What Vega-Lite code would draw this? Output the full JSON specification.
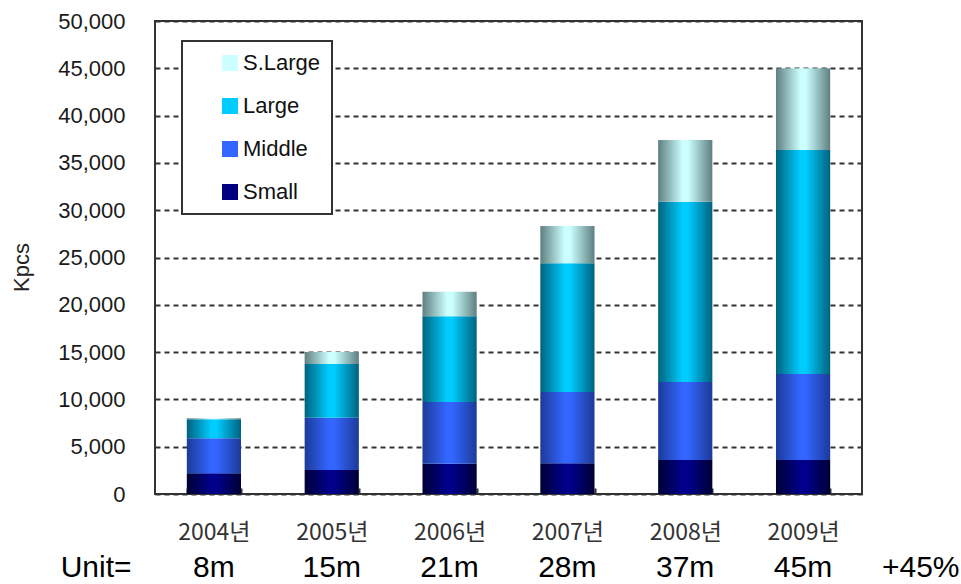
{
  "$schema": "https://vega.github.io/schema/vega-lite/v6.json",
  "width": 707,
  "height": 473,
  "autosize": {"type": "none"},
  "padding": {"left": 155, "top": 21, "right": 99, "bottom": 90},
  "background": "white",
  "config": {
    "view": {"stroke": "#333333", "strokeWidth": 2},
    "font": "Liberation Sans"
  },
  "datasets": {
    "sales": [
      {"year": "2004년", "size": "Small", "kpcs": 2200},
      {"year": "2004년", "size": "Middle", "kpcs": 3700},
      {"year": "2004년", "size": "Large", "kpcs": 2000},
      {"year": "2004년", "size": "S.Large", "kpcs": 100},
      {"year": "2005년", "size": "Small", "kpcs": 2540},
      {"year": "2005년", "size": "Middle", "kpcs": 5530},
      {"year": "2005년", "size": "Large", "kpcs": 5670},
      {"year": "2005년", "size": "S.Large", "kpcs": 1260},
      {"year": "2006년", "size": "Small", "kpcs": 3200},
      {"year": "2006년", "size": "Middle", "kpcs": 6520},
      {"year": "2006년", "size": "Large", "kpcs": 9080},
      {"year": "2006년", "size": "S.Large", "kpcs": 2590},
      {"year": "2007년", "size": "Small", "kpcs": 3240},
      {"year": "2007년", "size": "Middle", "kpcs": 7540},
      {"year": "2007년", "size": "Large", "kpcs": 13610},
      {"year": "2007년", "size": "S.Large", "kpcs": 3940},
      {"year": "2008년", "size": "Small", "kpcs": 3590},
      {"year": "2008년", "size": "Middle", "kpcs": 8250},
      {"year": "2008년", "size": "Large", "kpcs": 19060},
      {"year": "2008년", "size": "S.Large", "kpcs": 6520},
      {"year": "2009년", "size": "Small", "kpcs": 3590},
      {"year": "2009년", "size": "Middle", "kpcs": 9090},
      {"year": "2009년", "size": "Large", "kpcs": 23680},
      {"year": "2009년", "size": "S.Large", "kpcs": 8640}
    ],
    "units": [
      {"label": "Unit="},
      {"label": "8m"},
      {"label": "15m"},
      {"label": "21m"},
      {"label": "28m"},
      {"label": "37m"},
      {"label": "45m"},
      {"label": "+45%"}
    ]
  },
  "layer": [
    {
      "data": {"name": "sales"},
      "transform": [
        {"calculate": "indexof(['Small', 'Middle', 'Large', 'S.Large'], datum.size)", "as": "stackRank"}
      ],
      "mark": {"type": "bar"},
      "encoding": {
        "x": {
          "field": "year",
          "type": "nominal",
          "sort": null,
          "scale": {"paddingInner": 0.54, "paddingOuter": 0.27},
          "axis": {
            "title": null,
            "labelAngle": 0,
            "labelFont": "Noto Sans CJK KR",
            "labelFontSize": 23,
            "labelColor": "#333333",
            "labelPadding": 33,
            "domain": false,
            "ticks": true,
            "tickBand": "extent",
            "tickSize": -6,
            "tickColor": "#333333",
            "tickWidth": 2,
            "grid": false
          }
        },
        "y": {
          "field": "kpcs",
          "type": "quantitative",
          "stack": "zero",
          "scale": {"domain": [0, 50000], "nice": false},
          "axis": {
            "title": "Kpcs",
            "titleFontSize": 22,
            "titleFontWeight": "normal",
            "titleColor": "#222222",
            "titlePadding": 24,
            "titleY": 246,
            "values": [0, 5000, 10000, 15000, 20000, 25000, 30000, 35000, 40000, 45000, 50000],
            "format": ",.0f",
            "labelFontSize": 22,
            "labelColor": "#1a1a1a",
            "labelPadding": 30,
            "ticks": false,
            "tickSize": 0,
            "domain": false,
            "grid": true,
            "gridDash": [5, 4],
            "gridColor": "#333333",
            "gridWidth": 1.8
          }
        },
        "order": {"field": "stackRank", "type": "quantitative", "sort": "ascending"},
        "color": {
          "field": "size",
          "type": "nominal",
          "scale": {
            "domain": ["Small", "Middle", "Large", "S.Large"],
            "range": ["#000080", "#3366ff", "#00ccff", "#ccffff"]
          },
          "condition": [
            {"test": "datum.size === 'Small'", "value": {"gradient": "linear", "x1": 0, "y1": 0, "x2": 1, "y2": 0, "stops": [{"offset": 0, "color": "#000035"}, {"offset": 0.45, "color": "#00008c"}, {"offset": 0.55, "color": "#00008c"}, {"offset": 1, "color": "#000035"}]}},
            {"test": "datum.size === 'Middle'", "value": {"gradient": "linear", "x1": 0, "y1": 0, "x2": 1, "y2": 0, "stops": [{"offset": 0, "color": "#1c3a99"}, {"offset": 0.45, "color": "#3366ff"}, {"offset": 0.55, "color": "#3366ff"}, {"offset": 1, "color": "#1c3a99"}]}},
            {"test": "datum.size === 'Large'", "value": {"gradient": "linear", "x1": 0, "y1": 0, "x2": 1, "y2": 0, "stops": [{"offset": 0, "color": "#00627e"}, {"offset": 0.45, "color": "#00ccff"}, {"offset": 0.55, "color": "#00ccff"}, {"offset": 1, "color": "#00627e"}]}},
            {"test": "datum.size === 'S.Large'", "value": {"gradient": "linear", "x1": 0, "y1": 0, "x2": 1, "y2": 0, "stops": [{"offset": 0, "color": "#5f7f80"}, {"offset": 0.45, "color": "#ccffff"}, {"offset": 0.55, "color": "#ccffff"}, {"offset": 1, "color": "#5f7f80"}]}}
          ],
          "legend": {
            "orient": "none",
            "legendX": 27,
            "legendY": 20,
            "title": null,
            "values": ["S.Large", "Large", "Middle", "Small"],
            "symbolType": "square",
            "symbolSize": 256,
            "symbolStrokeWidth": 0,
            "labelFont": "Liberation Sans",
            "labelFontSize": 22,
            "labelColor": "#111111",
            "rowPadding": 21,
            "padding": 11,
            "symbolOffset": 26,
            "labelOffset": 2,
            "fillColor": "white",
            "strokeColor": "#333333",
            "encode": {"legend": {"update": {"strokeWidth": {"value": 2}}}}
          }
        }
      }
    },
    {
      "data": {"name": "units"},
      "mark": {"type": "text", "fontSize": 30, "baseline": "alphabetic", "align": "center", "color": "#000000", "font": "Liberation Sans"},
      "encoding": {
        "x": {
          "field": "label",
          "type": "nominal",
          "sort": null,
          "scale": {
            "domain": ["Unit=", "8m", "15m", "21m", "28m", "37m", "45m", "+45%"],
            "range": [-117.83, 824.67],
            "paddingInner": 0,
            "paddingOuter": 0
          },
          "axis": null
        },
        "y": {"datum": -8770, "type": "quantitative"},
        "text": {"field": "label"}
      }
    }
  ],
  "resolve": {"scale": {"x": "independent"}, "axis": {"x": "independent"}}
}
